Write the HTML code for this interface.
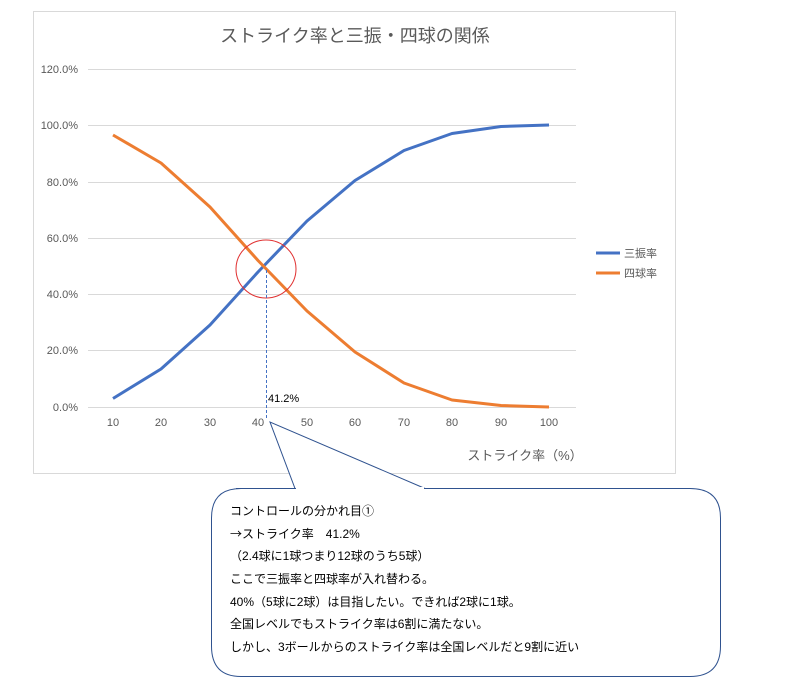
<!DOCTYPE html>
<html><head><meta charset="utf-8"><style>
body{margin:0;background:#fff;width:793px;height:686px;overflow:hidden}
svg text{font-family:"Liberation Sans","Noto Sans CJK JP",sans-serif}
</style></head><body>
<svg width="793" height="686" viewBox="0 0 793 686" xmlns="http://www.w3.org/2000/svg">
<rect x="33.5" y="11.5" width="642" height="462" fill="#fff" stroke="#d9d9d9"/>
<text x="355" y="42" font-size="18" fill="#595959" text-anchor="middle">ストライク率と三振・四球の関係</text>
<g stroke="#d9d9d9" stroke-width="1">
<line x1="88" x2="576" y1="69.5" y2="69.5"/><line x1="88" x2="576" y1="125.5" y2="125.5"/>
<line x1="88" x2="576" y1="182.5" y2="182.5"/><line x1="88" x2="576" y1="238.5" y2="238.5"/>
<line x1="88" x2="576" y1="294.5" y2="294.5"/><line x1="88" x2="576" y1="350.5" y2="350.5"/>
<line x1="88" x2="576" y1="407.5" y2="407.5"/>
</g>
<g font-size="11" fill="#595959" text-anchor="end">
<text x="78" y="73">120.0%</text><text x="78" y="129">100.0%</text><text x="78" y="186">80.0%</text>
<text x="78" y="242">60.0%</text><text x="78" y="298">40.0%</text><text x="78" y="354">20.0%</text><text x="78" y="411">0.0%</text>
</g>
<g font-size="11" fill="#595959" text-anchor="middle">
<text x="113" y="426">10</text><text x="161" y="426">20</text><text x="210" y="426">30</text><text x="258" y="426">40</text><text x="307" y="426">50</text>
<text x="355" y="426">60</text><text x="404" y="426">70</text><text x="452" y="426">80</text><text x="501" y="426">90</text><text x="549" y="426">100</text>
</g>
<text x="525" y="460" font-size="13" fill="#595959" text-anchor="middle">ストライク率（%）</text>
<polyline fill="none" stroke="#4472c4" stroke-width="3" stroke-linejoin="round" points="113,398.5 161,369 210,325 258,272 307,221 355,180.5 404,150.5 452,133.5 501,126.5 549,125"/>
<polyline fill="none" stroke="#ed7d31" stroke-width="3" stroke-linejoin="round" points="113,135 161,163 210,207 258,260.5 307,311 355,352 404,383 452,400 501,405.5 549,407"/>
<line x1="596" x2="620" y1="253" y2="253" stroke="#4472c4" stroke-width="3"/>
<line x1="596" x2="620" y1="273" y2="273" stroke="#ed7d31" stroke-width="3"/>
<text x="624" y="257" font-size="11" fill="#595959">三振率</text>
<text x="624" y="277" font-size="11" fill="#595959">四球率</text>
<ellipse cx="266" cy="269" rx="30" ry="29" fill="none" stroke="#e03030" stroke-width="1"/>
<line x1="266.5" x2="266.5" y1="270" y2="420" stroke="#4472c4" stroke-dasharray="3,2"/>
<text x="268" y="402" font-size="11" fill="#000">41.2%</text>
<path d="M236,488.5 H690 Q720.5,488.5 720.5,518 V646 Q720.5,676.5 690,676.5 H241 Q211.5,676.5 211.5,646 V518 Q211.5,488.5 241,488.5 H295 L270,422 L425,488.5" fill="#fff" stroke="#2f528f" stroke-width="1"/>
<rect x="296" y="487" width="128" height="3" fill="#fff"/>
<g font-size="12" fill="#000">
<text x="230" y="515">コントロールの分かれ目①</text>
<text x="230" y="538"><tspan style="font-family:'Noto Sans CJK JP',sans-serif">→</tspan>ストライク率　41.2%</text>
<text x="230" y="560">（2.4球に1球つまり12球のうち5球）</text>
<text x="230" y="583">ここで三振率と四球率が入れ替わる。</text>
<text x="230" y="606">40%（5球に2球）は目指したい。できれば2球に1球。</text>
<text x="230" y="628">全国レベルでもストライク率は6割に満たない。</text>
<text x="230" y="651">しかし、3ボールからのストライク率は全国レベルだと9割に近い</text>
</g>
</svg>
</body></html>
